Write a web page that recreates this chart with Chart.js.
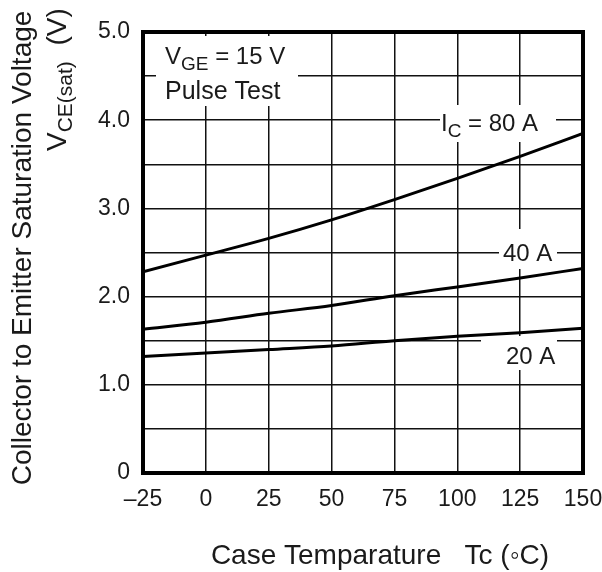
<!DOCTYPE html>
<html>
<head>
<meta charset="utf-8">
<script src="https://cdn.jsdelivr.net/npm/chart.js@4.4.1/dist/chart.umd.min.js"></script>
<style>
  body { margin: 0; background: #fff; }
</style>
</head>
<body>
<canvas id="grafico" width="602" height="572"></canvas>
<script>
// datos (Tc en grados C, VCE(sat) en V)
const temperaturas = [-25, 0, 25, 50, 75, 100, 125, 150];
const vce80A = [2.28, 2.47, 2.66, 2.87, 3.10, 3.34, 3.59, 3.85];
const vce40A = [1.63, 1.71, 1.81, 1.90, 2.01, 2.11, 2.21, 2.32];
const vce20A = [1.32, 1.36, 1.40, 1.44, 1.50, 1.55, 1.59, 1.64];
const ticksX = [-25, 0, 25, 50, 75, 100, 125, 150];
const ticksY = [0, 1.0, 2.0, 3.0, 4.0, 5.0];

const fuente = '"Liberation Sans", Arial, sans-serif';
const negro = '#111';

const puntos = (serie) => temperaturas.map((t, i) => ({ x: t, y: serie[i] }));

// escribe texto con subindices: partes = [[texto, tamaño, desplazamientoY], ...]
const escribir = (ctx, partes, x, y) => {
  let cx = x;
  partes.forEach(([txt, size, dy]) => {
    ctx.font = size + 'px ' + fuente;
    ctx.fillText(txt, cx, y + dy);
    cx += ctx.measureText(txt).width;
  });
};

const anotaciones = {
  id: 'anotaciones',
  beforeDatasetsDraw(chart) {
    const { ctx } = chart;
    // cajas blancas que tapan la cuadricula detras de los textos
    ctx.save();
    ctx.fillStyle = '#fff';
    ctx.fillRect(156, 36, 142, 70);
    ctx.fillRect(440, 105, 116, 37);
    ctx.fillRect(499, 229, 58, 40);
    ctx.fillRect(481, 336, 76, 34);
    ctx.restore();
  },
  afterDraw(chart) {
    const { ctx, chartArea: a } = chart;
    ctx.save();
    // marco grueso
    ctx.strokeStyle = '#000';
    ctx.lineWidth = 4;
    ctx.strokeRect(a.left, a.top, a.right - a.left, a.bottom - a.top);

    ctx.fillStyle = '#1a1a1a';
    ctx.textBaseline = 'alphabetic';
    ctx.textAlign = 'left';
    escribir(ctx, [['V', 24, 0], ['GE', 19, 6], [' = 15 V', 24, 0]], 165, 64);
    escribir(ctx, [['Pulse Test', 25, 0]], 165, 99);
    escribir(ctx, [['I', 24, 0], ['C', 19, 6], [' = 80 A', 24, 0]], 441, 131);
    escribir(ctx, [['40 A', 24, 0]], 503, 261);
    escribir(ctx, [['20 A', 24, 0]], 506, 364);

    // titulo eje x
    ctx.font = '28px ' + fuente;
    ctx.textAlign = 'center';
    ctx.fillText('Case Temparature   Tc (\u25E6C)', 380, 564);

    // titulo eje y (dos lineas giradas)
    ctx.save();
    ctx.translate(31, 248);
    ctx.rotate(-Math.PI / 2);
    ctx.font = '28px ' + fuente;
    ctx.textAlign = 'center';
    ctx.fillText('Collector to Emitter Saturation Voltage', 0, 0);
    ctx.restore();

    ctx.save();
    ctx.translate(66, 151);
    ctx.rotate(-Math.PI / 2);
    ctx.textAlign = 'left';
    escribir(ctx, [['V', 28, 0], ['CE(sat)', 21, 6], ['  (V)', 28, 0]], 0, 0);
    ctx.restore();

    ctx.restore();
  }
};

const serie = (datos) => ({
  data: puntos(datos),
  borderColor: '#000',
  borderWidth: 3,
  pointRadius: 0,
  fill: false,
  cubicInterpolationMode: 'monotone'
});

new Chart(document.getElementById('grafico'), {
  type: 'line',
  data: {
    datasets: [serie(vce80A), serie(vce40A), serie(vce20A)]
  },
  options: {
    responsive: false,
    animation: false,
    layout: { padding: { top: 32, right: 19, left: 0, bottom: 0 } },
    plugins: { legend: { display: false }, tooltip: { enabled: false } },
    scales: {
      x: {
        type: 'linear',
        min: -25,
        max: 150,
        afterBuildTicks: (eje) => { eje.ticks = ticksX.map(v => ({ value: v })); },
        afterFit: (eje) => { eje.height = 99; eje.paddingLeft = 0; eje.paddingRight = 0; },
        grid: { color: negro, lineWidth: 1.5, drawTicks: false },
        border: { display: false },
        ticks: {
          padding: 13,
          color: '#1a1a1a',
          font: { family: fuente, size: 23 },
          maxRotation: 0,
          callback: (v) => v < 0 ? '\u2013' + Math.abs(v) : String(v)
        }
      },
      y: {
        min: 0,
        max: 5,
        ticks: {
          stepSize: 0.5,
          padding: 13,
          color: '#1a1a1a',
          font: { family: fuente, size: 23 },
          callback: (v) => ticksY.includes(v) ? (v === 0 ? '0' : v.toFixed(1)) : ''
        },
        afterFit: (eje) => { eje.width = 143; eje.paddingTop = 0; eje.paddingBottom = 0; },
        grid: { color: negro, lineWidth: 1.5, drawTicks: false },
        border: { display: false }
      }
    }
  },
  plugins: [anotaciones]
});
</script>
</body>
</html>
